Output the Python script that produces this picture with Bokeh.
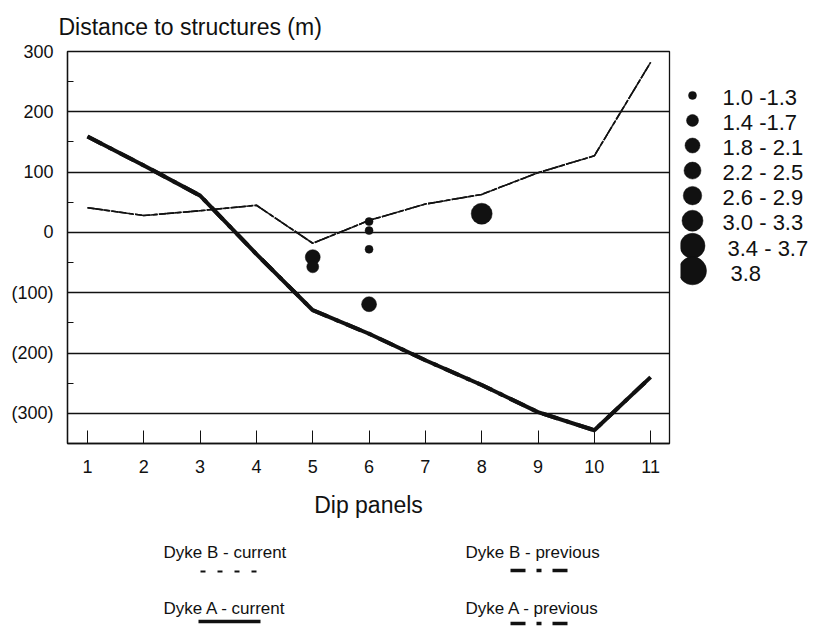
from bokeh.plotting import figure
from bokeh.layouts import column, row
from bokeh.models import Range1d, FixedTicker, SingleIntervalTicker
from bokeh.embed import file_html
from bokeh.resources import INLINE
from bokeh.core.properties import value

# Dip panels along the section
panels = [1, 2, 3, 4, 5, 6, 7, 8, 9, 10, 11]

# Distance to structures (m) for each dyke, current and previous survey
dyke_a_current = [159, 111, 61, -36, -129, -168, -212, -253, -298, -328, -240]
dyke_a_previous = [159, 111, 61, -36, -129, -168, -212, -253, -298, -328, -240]
dyke_b_current = [41, 28, 36, 45, -18, 20, 47, 63, 99, 127, 282]
dyke_b_previous = [41, 28, 36, 45, -18, 20, 47, 63, 99, 127, 282]

# Individual measurements, grouped into size classes
bubble_panel = [5, 5, 6, 6, 6, 6, 8]
bubble_distance = [-41, -57, 18, 3, -28, -119, 31]
bubble_class = ["1.8 - 2.1", "1.4 -1.7", "1.0 -1.3", "1.0 -1.3", "1.0 -1.3",
                "1.8 - 2.1", "3.0 - 3.3"]

size_classes = ["1.0 -1.3", "1.4 -1.7", "1.8 - 2.1", "2.2 - 2.5",
                "2.6 - 2.9", "3.0 - 3.3", "3.4 - 3.7", "3.8"]

y_ticks = [-300, -200, -100, 0, 100, 200, 300]
y_tick_labels = ["(300)", "(200)", "(100)", "0", "100", "200", "300"]

series_names = ["Dyke B - current", "Dyke B - previous",
                "Dyke A - current", "Dyke A - previous"]

# ---- styling ----
FONT = "Liberation Sans"
INK = "#111111"
class_diameter = dict(zip(size_classes, [8, 12, 15, 17, 18.5, 21, 25, 28]))

# ---- main chart ----
p = figure(frame_width=602, frame_height=392,
           min_border_left=67, min_border_right=11,
           min_border_top=51, min_border_bottom=84,
           x_range=Range1d(0.645, 11.335), y_range=Range1d(-350, 300),
           title="Distance to structures (m)",
           output_backend="svg", toolbar_location=None, tools="")
p.background_fill_color = "white"
p.border_fill_color = "white"
p.outline_line_color = INK
p.outline_line_width = 1.3

p.title.align = "left"
p.title.offset = -9
p.title.standoff = 23
p.title.text_font = FONT
p.title.text_font_size = "23px"
p.title.text_font_style = "normal"
p.title.text_color = INK

p.xgrid.visible = False
p.ygrid.ticker = FixedTicker(ticks=y_ticks)
p.ygrid.grid_line_color = INK
p.ygrid.grid_line_width = 1.3

ya = p.yaxis[0]
ya.ticker = SingleIntervalTicker(interval=100, num_minor_ticks=2)
ya.major_label_overrides = dict(zip(y_ticks, y_tick_labels))
ya.major_tick_in = 6
ya.major_tick_out = 0
ya.minor_tick_in = 6
ya.minor_tick_out = 0
ya.major_label_standoff = 14

xa = p.xaxis[0]
xa.ticker = FixedTicker(ticks=panels)
xa.major_tick_in = 13
xa.major_tick_out = 0
xa.major_label_standoff = 16
xa.axis_label = "Dip panels"
xa.axis_label_standoff = 16

for ax in (xa, ya):
    ax.axis_line_color = INK
    ax.axis_line_width = 1.3
    ax.major_tick_line_color = INK
    ax.minor_tick_line_color = INK if ax is ya else None
    ax.major_label_text_font = FONT
    ax.major_label_text_font_size = "18px"
    ax.major_label_text_color = INK
    ax.axis_label_text_font = FONT
    ax.axis_label_text_font_size = "23px"
    ax.axis_label_text_font_style = "normal"
    ax.axis_label_text_color = INK

# Dyke A (thick) - previous underneath, current on top
p.line(panels, dyke_a_previous, line_color=INK, line_width=4, line_dash="16 8 4 8")
p.line(panels, dyke_a_current, line_color=INK, line_width=4)
# Dyke B (thin) - both surveys overlap
p.line(panels, dyke_b_previous, line_color=INK, line_width=1.6, line_dash="16 2 4 2")
p.line(panels, dyke_b_current, line_color=INK, line_width=1.6, line_dash="7 1")

p.scatter(bubble_panel, bubble_distance,
          size=[class_diameter[c] for c in bubble_class],
          fill_color=INK, line_color=INK, line_width=0.5)

# ---- size-class key on the right ----
lg = figure(width=133, height=527, x_range=Range1d(0, 133), y_range=Range1d(527, 0),
            min_border=0, x_axis_location=None, y_axis_location=None,
            output_backend="svg", toolbar_location=None, tools="")
lg.grid.visible = False
lg.outline_line_color = None
lg.border_fill_color = "white"
lg.background_fill_color = "white"

key_y = [59 + i * 33.7 for i in range(len(size_classes))]
key_text_x = [42, 42, 42, 42, 42, 42, 47, 50]
lg.scatter([12] * len(size_classes), key_y,
           size=[class_diameter[c] for c in size_classes],
           fill_color=INK, line_color=INK, line_width=0.5)
lg.text(key_text_x, [y + 3 for y in key_y], text=size_classes,
        text_font=value(FONT), text_font_size="22px", text_color=INK,
        text_baseline="middle", text_align="left")

# ---- line-style key below ----
lb = figure(width=813, height=100, x_range=Range1d(0, 813), y_range=Range1d(627, 527),
            min_border=0, x_axis_location=None, y_axis_location=None,
            output_backend="svg", toolbar_location=None, tools="")
lb.grid.visible = False
lb.outline_line_color = None
lb.border_fill_color = "white"
lb.background_fill_color = "white"

key_text_pos = [(163, 552), (465, 552), (163, 608), (465, 608)]
key_sample = [((200, 257), 571, "5 12", 2.0),
              ((510, 569), 570, "15 11 5 11", 3.5),
              ((198, 260), 621, "solid", 3.5),
              ((510, 569), 623, "15 11 5 11", 3.5)]

lb.text([t[0] for t in key_text_pos], [t[1] for t in key_text_pos], text=series_names,
        text_font=value(FONT), text_font_size="17px", text_color=INK,
        text_baseline="middle", text_align="left")
for (xs, ys, dash, w) in key_sample:
    lb.line(list(xs), [ys, ys], line_color=INK, line_width=w, line_dash=dash)

layout = column(row(p, lg), lb)
open("out.html", "w").write(file_html(layout, INLINE))
